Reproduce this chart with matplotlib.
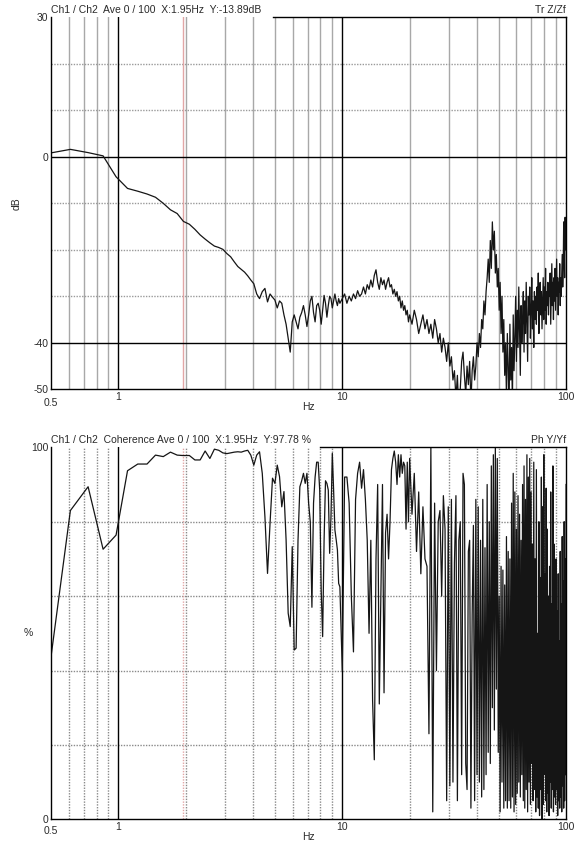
import matplotlib
matplotlib.use("Agg")
import matplotlib.pyplot as plt
import numpy as np

plt.rcParams['font.family'] = ['Liberation Sans', 'DejaVu Sans']

DF = 0.1220703125  # Hz per FFT bin
# (first bin, bin step) of the three stored pieces of each spectrum
SEGMENTS = [(4, 1), (82, 2), (164, 4)]

# transfer function magnitude, dB
db_a = [0.75, 1.6, 0.9, 0.2, -4.3, -6.8, -7.4, -8.0, -8.7, -10.0,
        -11.4, -12.2, -13.9, -14.5, -15.6, -16.8, -17.7, -18.5, -19.2, -19.5,
        -19.9, -20.8, -21.5, -22.6, -23.6, -24.2, -24.8, -25.6, -26.5, -27.3,
        -29.5, -30.5, -29.0, -28.3, -31.2, -29.5, -30.2, -30.8, -32.5, -31.0,
        -31.5, -34.0, -36.0, -39.0, -42.0, -35.5, -34.0, -35.5, -37.0, -34.5,
        -33.5, -32.0, -34.0, -36.5, -34.0, -31.0, -30.0, -33.5, -35.5, -32.0,
        -31.5, -33.0, -36.0, -33.0, -29.8, -31.5, -34.5, -32.0, -30.0, -30.5,
        -32.5, -31.0, -29.5, -31.0, -32.0, -30.5, -31.5]
db_b = [-30.5, -29.5, -31.5, -30.0, -31.0, -29.5, -30.5, -28.8, -30.0, -29.5,
        -28.0, -29.5, -27.5, -28.5, -26.5, -28.0, -25.5, -24.3, -27.0, -28.5,
        -26.0, -27.5, -26.5, -28.5, -27.0, -26.0, -28.0, -27.5, -29.5, -28.5,
        -30.0, -29.0, -31.0, -30.0, -32.5, -31.0, -33.0, -32.0, -34.0, -33.0,
        -35.5]
db_c = [-34, -36, -33, -35, -38, -36, -34, -37, -35, -38,
        -36, -39, -35, -37, -40, -38, -42, -39, -41, -44,
        -40, -45, -43, -48, -46, -52, -47, -55, -50, -44,
        -42, -47, -51, -45, -49, -44, -53, -46, -43, -48,
        -45, -40, -43, -38, -41, -35, -37, -31, -34, -29,
        -26, -22, -27, -18, -24, -14, -20, -16, -25, -21,
        -28, -24, -33, -27, -38, -30, -42, -35, -47, -40,
        -52, -38, -45, -55, -36, -48, -41, -53, -34, -46,
        -39, -30, -44, -33, -41, -28, -37, -47, -32, -40,
        -35, -29, -42, -31, -38, -27, -36, -44, -30, -34,
        -28, -39, -33, -26, -37, -31, -41, -29, -35, -30,
        -36, -28, -33, -25, -38, -30, -27, -34, -29, -37,
        -31, -26, -35, -28, -33, -24, -36, -29, -32, -27,
        -34, -28, -30, -25, -36, -29, -23, -32, -27, -35,
        -26, -31, -24, -33, -28, -22, -30, -26, -34, -27,
        -29, -23, -32, -26, -30, -25, -21, -28, -24, -14,
        -19, -26, -13, -20, -17]

# coherence, %
coh_a = [39, 83, 89.4, 72.6, 76.4, 93.7, 95.5, 95.5, 97.9, 97.5,
         98.7, 97.9, 97.78, 97.8, 96.6, 96.6, 99.0, 97.0, 99.5, 99.2,
         98.5, 98.3, 98.5, 98.7, 98.8, 98.7, 99.0, 99.2, 97.9, 95.2,
         97.9, 98.8, 93.0, 81.3, 66.1, 79.6, 91.7, 90.3, 95.2, 92.1,
         84.0, 88.1, 75.1, 55.4, 51.8, 73.3, 45.5, 46, 75, 89.4,
         91, 93, 90.3, 93, 85, 80, 57, 85, 92, 96,
         96, 88.5, 61.6, 49.1, 75, 91, 90.3, 88.5, 71.5, 81.3,
         98.4, 88.5, 77.8, 75.2, 72.4, 63.4, 62.5]
coh_b = [40, 92, 92, 85, 60, 45, 86, 93, 96, 89,
         94, 86, 75, 50, 75, 32, 16, 70, 90, 31,
         60, 90, 34, 77, 82, 70, 80, 94, 97, 99,
         96, 90, 98, 92, 98, 93, 96, 95, 78, 96,
         80]
coh_c = [97, 82, 93, 72, 88, 66, 84, 70, 68, 23,
         100, 2, 85, 40, 80, 83, 60, 87, 78, 5,
         84, 9, 86, 10, 69, 87, 5, 75, 80, 12,
         93, 90, 15, 8, 72, 75, 3, 55, 79, 5,
         86, 12, 84, 10, 75, 6, 86, 8, 73, 12,
         90, 18, 80, 15, 95, 30, 98, 24, 100, 35,
         97, 18, 60, 2, 68, 10, 67, 3, 63, 5,
         76, 3, 72, 5, 70, 3, 85, 6, 93, 2,
         88, 4, 78, 7, 87, 10, 82, 6, 75, 12,
         90, 5, 95, 3, 86, 8, 98, 2, 92, 10,
         97, 4, 88, 15, 74, 5, 96, 8, 70, 2,
         94, 6, 50, 3, 80, 1, 65, 8, 92, 0,
         84, 4, 98, 12, 66, 5, 89, 2, 78, 7,
         60, 1, 68, 10, 88, 3, 58, 8, 95, 2,
         74, 6, 62, 4, 70, 8, 56, 1, 66, 5,
         48, 3, 72, 6, 58, 2, 76, 9, 64, 3,
         80, 5, 70, 12, 90]

cursor_hz = 1.95
minor_hz = [0.6, 0.7, 0.8, 0.9, 2, 3, 4, 5, 6, 7, 8, 9,
            20, 30, 40, 50, 60, 70, 80, 90]
major_hz = [1, 10]


def spectrum(pieces):
    f, v = [], []
    for (k0, step), vals in zip(SEGMENTS, pieces):
        f.append((k0 + step * np.arange(len(vals))) * DF)
        v.append(np.asarray(vals, dtype=float))
    return np.concatenate(f), np.concatenate(v)


TXT = '#2a2a2a'
GRID = '#9a9a9a'
RED = '#e2a6a6'
DOT = (0, (1, 1))
FS = 7.5

fig = plt.figure(figsize=(5.79, 8.5), dpi=100)
W, H = 579.0, 850.0
x0, x1 = 51.0, 566.0


def make_axes(top_px, bot_px):
    ax = fig.add_axes([x0 / W, 1 - bot_px / H, (x1 - x0) / W, (bot_px - top_px) / H])
    ax.set_xscale('log')
    ax.set_xlim(0.5, 100)
    ax.tick_params(which='both', length=0, colors=TXT, labelsize=FS, pad=2)
    ax.xaxis.set_minor_locator(matplotlib.ticker.NullLocator())
    ax.set_xticks([1, 10, 100], ['1', '10', '100'])
    for s in ax.spines.values():
        s.set_linewidth(1.0)
        s.set_color('black')
    ax.spines['top'].set_visible(False)
    return ax


# ---------------- top: transfer function ----------------
ax1 = make_axes(17.3, 389.3)
ax1.set_ylim(-50, 30)
ax1.set_yticks([30, 0, -40, -50], ['30', '0', '-40', '-50'])
for f in minor_hz:
    ax1.axvline(f, color='#a8a8a8', lw=1.0, zorder=1)
ax1.axvline(cursor_hz, color=RED, lw=1.0, zorder=1.5)
for f in major_hz:
    ax1.axvline(f, color='black', lw=1.0, zorder=1.6)
for y in [20, 10, -10, -20, -30]:
    ax1.axhline(y, color=GRID, lw=1.0, ls=DOT, zorder=1)
for y in [0, -40]:
    ax1.axhline(y, color='black', lw=1.0, zorder=1.6)
ax1.plot([(273 - x0) / (x1 - x0), 1], [1, 1], color='black', lw=1.0,
         transform=ax1.transAxes, clip_on=False, zorder=3)
f1, v1 = spectrum([db_a, db_b, db_c])
ax1.plot(f1, v1, color='#151515', lw=0.9, zorder=2)
ax1.text(0.0, 1.006, 'Ch1 / Ch2  Ave 0 / 100  X:1.95Hz  Y:-13.89dB',
         transform=ax1.transAxes, fontsize=FS, color=TXT, va='bottom', ha='left')
ax1.text(1.0, 1.006, 'Tr Z/Zf', transform=ax1.transAxes, fontsize=FS,
         color=TXT, va='bottom', ha='right')
ax1.text(0.0, -0.024, '0.5', transform=ax1.transAxes, fontsize=FS, color=TXT,
         va='top', ha='center')
ax1.text(0.5, -0.035, 'Hz', transform=ax1.transAxes, fontsize=FS, color=TXT,
         va='top', ha='center')
ax1.text(-0.066, 0.5, 'dB', transform=ax1.transAxes, fontsize=FS, color=TXT,
         va='center', ha='center', rotation=90)

# ---------------- bottom: coherence ----------------
ax2 = make_axes(447.3, 819.3)
ax2.set_ylim(0, 100)
ax2.set_yticks([100, 0], ['100', '0'])
for f in minor_hz:
    ax2.axvline(f, color='#8a8a8a', lw=1.0, ls=DOT, zorder=1)
ax2.axvline(cursor_hz, color=RED, lw=1.0, ls=DOT, zorder=1.5)
for f in major_hz:
    ax2.axvline(f, color='black', lw=1.0, zorder=1.6)
for y in [20, 40, 60, 80]:
    ax2.axhline(y, color='#8a8a8a', lw=1.0, ls=DOT, zorder=1)
ax2.plot([(320 - x0) / (x1 - x0), 1], [1, 1], color='black', lw=1.0,
         transform=ax2.transAxes, clip_on=False, zorder=3)
f2, v2 = spectrum([coh_a, coh_b, coh_c])
ax2.plot(f2, v2, color='#151515', lw=0.9, zorder=2)
ax2.text(0.0, 1.006, 'Ch1 / Ch2  Coherence Ave 0 / 100  X:1.95Hz  Y:97.78 %',
         transform=ax2.transAxes, fontsize=FS, color=TXT, va='bottom', ha='left')
ax2.text(1.0, 1.006, 'Ph Y/Yf', transform=ax2.transAxes, fontsize=FS,
         color=TXT, va='bottom', ha='right')
ax2.text(0.0, -0.018, '0.5', transform=ax2.transAxes, fontsize=FS, color=TXT,
         va='top', ha='center')
ax2.text(0.5, -0.035, 'Hz', transform=ax2.transAxes, fontsize=FS, color=TXT,
         va='top', ha='center')
ax2.text(-0.045, 0.5, '%', transform=ax2.transAxes, fontsize=FS, color=TXT,
         va='center', ha='center')

fig.savefig('out.png', dpi=100, facecolor='white')
